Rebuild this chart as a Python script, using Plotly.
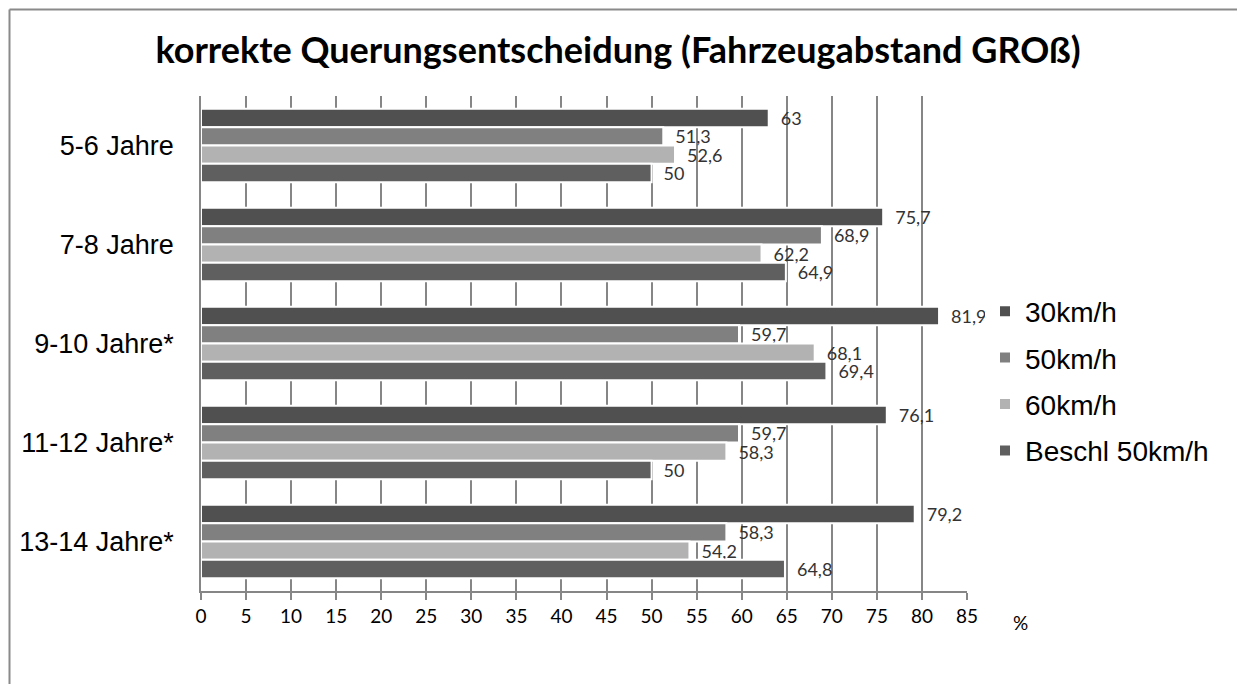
import plotly.graph_objects as go

categories = ["5-6 Jahre", "7-8 Jahre", "9-10 Jahre*", "11-12 Jahre*", "13-14 Jahre*"]
series_names = ["30km/h", "50km/h", "60km/h", "Beschl 50km/h"]
v30 = [63, 75.7, 81.9, 76.1, 79.2]
v50 = [51.3, 68.9, 59.7, 59.7, 58.3]
v60 = [52.6, 62.2, 68.1, 58.3, 54.2]
vbeschl = [50, 64.9, 69.4, 50, 64.8]
series_values = [v30, v50, v60, vbeschl]
colors = ["#505050", "#808080", "#b2b2b2", "#5f5f5f"]
x_ticks = list(range(0, 90, 5))

# page body has an 8px default margin: figure origin sits at (8, 8)
OFF = 8
W, H = 1245 - OFF, 684 - OFF
PL, PR, PT, PB = 201, 967, 96, 591  # plot area in page pixels
L, T = PL - OFF, PT - OFF
R, B = 1245 - PR, 684 - PB
pw, ph = PR - PL, PB - PT

def px2x(px):
    return (px - PL) / pw

def py2y(py):
    return (PB - py) / ph

def fmt(v):
    return ("%g" % v).replace(".", ",")

fig = go.Figure()
for i, (name, vals) in enumerate(zip(series_names, series_values)):
    fig.add_trace(go.Bar(
        y=categories, x=vals, name=name, orientation="h",
        marker=dict(color=colors[i], line=dict(color="white", width=2)),
        text=["\u2002" + fmt(v) for v in vals],
        textposition="outside", constraintext="none", cliponaxis=False,
        textfont=dict(family="Lato", size=18, color="#333333"),
        legendgroup=name,
    ))

fig.update_layout(
    width=W, height=H,
    margin=dict(l=L, r=R, t=T, b=B, autoexpand=False),
    paper_bgcolor="white", plot_bgcolor="white",
    barmode="group", bargap=0.26, bargroupgap=0,
    title=dict(text="<b>korrekte Querungsentscheidung (Fahrzeugabstand GROß)</b>",
               x=(618 - OFF) / W, xanchor="center", y=1 - (50 - OFF) / H, yanchor="middle",
               font=dict(family="Lato", size=36, color="black")),
    legend=dict(x=px2x(985), xanchor="left", y=py2y(381), yanchor="middle",
                font=dict(family="Liberation Sans", size=28, color="black"),
                tracegroupgap=7, traceorder="grouped", itemclick=False),
    showlegend=True,
    xaxis=dict(range=[0, 85], tickvals=x_ticks, ticktext=[str(t) for t in x_ticks],
               showgrid=True, gridcolor="#868686", gridwidth=1.5,
               showline=True, linecolor="#868686", linewidth=1.5,
               ticks="outside", ticklen=7, tickcolor="#868686", tickwidth=1.5,
               tickfont=dict(family="Lato", size=19, color="black"),
               zeroline=False, fixedrange=True, automargin=False),
    yaxis=dict(autorange="reversed", showgrid=False, showline=True,
               linecolor="#868686", linewidth=1.5, ticks="", ticklabelstandoff=20,
               tickfont=dict(family="Liberation Sans", size=27, color="black"),
               fixedrange=True, automargin=False),
    annotations=[dict(text="%", xref="paper", yref="paper", x=px2x(1020), y=py2y(622),
                      xanchor="center", yanchor="middle", showarrow=False,
                      font=dict(family="Lato", size=19, color="black"))],
    shapes=[
        dict(type="line", xref="paper", yref="paper", x0=px2x(9.5), x1=px2x(1245),
             y0=py2y(9.5), y1=py2y(9.5), line=dict(color="#8a8a8a", width=2)),
        dict(type="line", xref="paper", yref="paper", x0=px2x(9.5), x1=px2x(9.5),
             y0=py2y(9.5), y1=py2y(684), line=dict(color="#8a8a8a", width=2)),
    ],
)

fig.write_html("out.html")
